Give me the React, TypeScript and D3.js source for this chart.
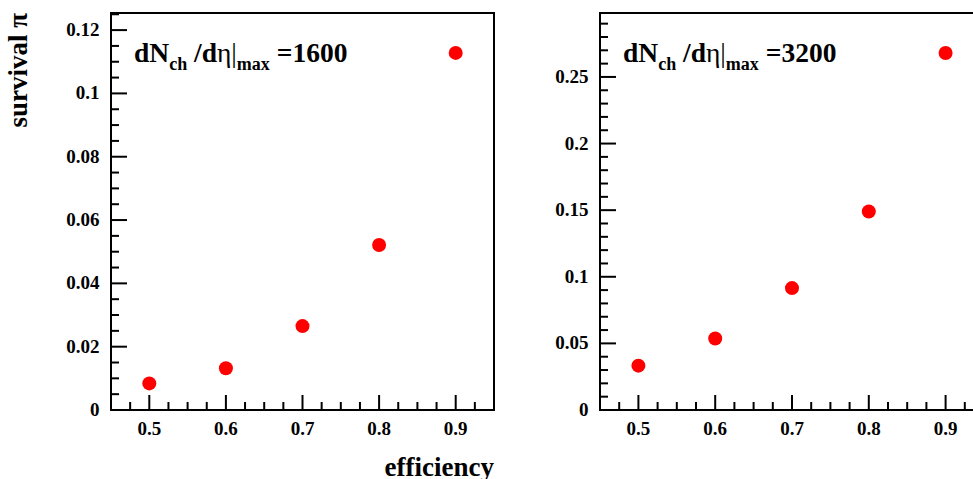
import React from "react";
import * as d3 from "d3";

const efficiency = [0.5, 0.6, 0.7, 0.8, 0.9];
const survival1600 = [0.0084, 0.0132, 0.0265, 0.0521, 0.1128];
const survival3200 = [0.0333, 0.0537, 0.0915, 0.149, 0.268];
const xTicks = [0.5, 0.6, 0.7, 0.8, 0.9];
const yTicks1600 = [0, 0.02, 0.04, 0.06, 0.08, 0.1, 0.12];
const yTicks3200 = [0, 0.05, 0.1, 0.15, 0.2, 0.25];
const labels = ["1600", "3200"];

const FONT = "'Liberation Serif', 'Times New Roman', serif";

type PanelProps = {
  left: number;
  right: number;
  yMax: number;
  yTicks: number[];
  yMinorStep: number;
  values: number[];
  label: string;
};

function Panel({ left, right, yMax, yTicks, yMinorStep, values, label }: PanelProps) {
  const top = 13;
  const bottom = 410;
  const x = d3.scaleLinear().domain([0.45, 0.95]).range([left, right]);
  const y = d3.scaleLinear().domain([0, yMax]).range([bottom, top]);
  const xMinor = d3.range(0.45, 0.95 + 1e-9, 0.025).filter((v) => v > 0.4501 && v < 0.9499);
  const yMinor = d3.range(0, yMax + 1e-9, yMinorStep);
  const fmt = (v: number) => (v === 0 ? "0" : String(+v.toFixed(3)));
  return (
    <g>
      {xMinor.map((v, i) => {
        const major = xTicks.some((t) => Math.abs(t - v) < 1e-6);
        return (
          <line key={"xm" + i} x1={x(v)} x2={x(v)} y1={bottom} y2={bottom - (major ? 15 : 8)} stroke="#000" strokeWidth={2} />
        );
      })}
      {yMinor.map((v, i) => {
        const major = yTicks.some((t) => Math.abs(t - v) < 1e-6);
        return (
          <line key={"ym" + i} x1={left} x2={left + (major ? 16 : 8)} y1={y(v)} y2={y(v)} stroke="#000" strokeWidth={2} />
        );
      })}
      <rect x={left} y={top} width={right - left} height={bottom - top} fill="none" stroke="#000" strokeWidth={2} />
      {xTicks.map((t) => (
        <text key={"xt" + t} x={x(t)} y={435} textAnchor="middle" fontFamily={FONT} fontWeight="bold" fontSize={19}>
          {fmt(t)}
        </text>
      ))}
      {yTicks.map((t) => (
        <text key={"yt" + t} x={left - 11.5} y={y(t) + 6} textAnchor="end" fontFamily={FONT} fontWeight="bold" fontSize={19}>
          {fmt(t)}
        </text>
      ))}
      <text x={left + 23} y={62} fontFamily={FONT} fontWeight="bold" fontSize={27.5}>
        dN
        <tspan fontSize={18} dy={8}>ch</tspan>
        <tspan dy={-8}> /d</tspan>
        <tspan fontWeight="normal">η|</tspan>
        <tspan fontSize={18} dy={8}>max</tspan>
        <tspan dy={-8}> =</tspan>
        <tspan>{label}</tspan>
      </text>
      {efficiency.map((e, i) => (
        <circle key={"p" + i} cx={x(e)} cy={y(values[i])} r={7} fill="#ff0000" />
      ))}
    </g>
  );
}

export default function App() {
  return (
    <svg width={973} height={479} style={{ position: "absolute", left: 0, top: 0, background: "#fff" }}>
      <rect x={0} y={0} width={973} height={479} fill="#fff" />
      <Panel left={111} right={494} yMax={0.1254} yTicks={yTicks1600} yMinorStep={0.005} values={survival1600} label={labels[0]} />
      <Panel left={600} right={984} yMax={0.298} yTicks={yTicks3200} yMinorStep={0.01} values={survival3200} label={labels[1]} />
      <text transform="translate(27,13) rotate(-90)" textAnchor="end" fontFamily={FONT} fontWeight="bold" fontSize={27}>
        survival π
      </text>
      <text x={494} y={476} textAnchor="end" fontFamily={FONT} fontWeight="bold" fontSize={27}>
        efficiency
      </text>
    </svg>
  );
}
